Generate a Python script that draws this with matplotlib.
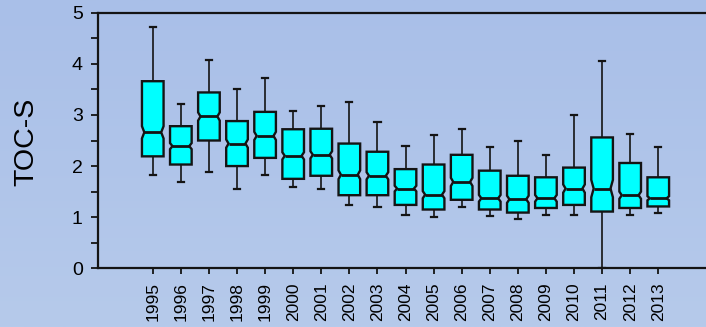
import numpy as np
import matplotlib
matplotlib.use("Agg")
import matplotlib.pyplot as plt
from matplotlib.patches import Polygon

plt.rcParams['font.family'] = ['Liberation Sans', 'DejaVu Sans']

# Datos
years = ["1995", "1996", "1997", "1998", "1999", "2000", "2001", "2002", "2003", "2004",
         "2005", "2006", "2007", "2008", "2009", "2010", "2011", "2012", "2013"]
whisk_hi = [4.73, 3.22, 4.07, 3.50, 3.72, 3.07, 3.17, 3.25, 2.86, 2.40,
            2.60, 2.73, 2.38, 2.50, 2.22, 3.00, 4.06, 2.63, 2.38]
q3 = [3.66, 2.78, 3.44, 2.88, 3.06, 2.72, 2.73, 2.44, 2.28, 1.94,
      2.03, 2.22, 1.91, 1.81, 1.78, 1.97, 2.56, 2.06, 1.78]
median = [2.66, 2.39, 2.97, 2.44, 2.59, 2.20, 2.22, 1.83, 1.81, 1.56,
          1.44, 1.69, 1.37, 1.35, 1.37, 1.56, 1.56, 1.43, 1.37]
q1 = [2.19, 2.03, 2.50, 2.00, 2.16, 1.75, 1.81, 1.43, 1.43, 1.24,
      1.15, 1.34, 1.15, 1.09, 1.18, 1.24, 1.11, 1.18, 1.21]
whisk_lo = [1.82, 1.69, 1.88, 1.56, 1.82, 1.59, 1.56, 1.24, 1.19, 1.05,
            1.00, 1.19, 1.02, 0.96, 1.05, 1.05, 0.01, 1.05, 1.09]
notch = [0.12, 0.06, 0.08, 0.08, 0.08, 0.07, 0.07, 0.085, 0.07, 0.055,
         0.07, 0.08, 0.065, 0.07, 0.065, 0.08, 0.17, 0.07, 0.04]

fig = plt.figure(figsize=(7.06, 3.27), dpi=100)

# fondo degradado
bg = fig.add_axes([0, 0, 1, 1], zorder=-10)
grad = np.linspace(0, 1, 256).reshape(-1, 1)
top_c = np.array([169, 191, 232]) / 255
bot_c = np.array([182, 202, 235]) / 255
img = top_c[None, None, :] * (1 - grad[:, :, None]) + bot_c[None, None, :] * grad[:, :, None]
bg.imshow(img, aspect='auto', extent=[0, 1, 0, 1])
bg.axis('off')

ax = fig.add_axes([98 / 706, 1 - 268.3 / 327, 1 - 98 / 706, (268.3 - 12.7) / 327])
ax.set_facecolor('none')

edge = '#141414'
box_w = 0.77
cap_w = 0.22
pos = np.arange(len(years)) + 1.95

for i in range(len(years)):
    x = pos[i]
    hw = box_w / 2
    nw = hw * 0.78
    lo = median[i] - notch[i]
    hi = median[i] + notch[i]
    verts = [(x - hw, q1[i]), (x + hw, q1[i]), (x + hw, lo), (x + nw, median[i]),
             (x + hw, hi), (x + hw, q3[i]), (x - hw, q3[i]), (x - hw, hi),
             (x - nw, median[i]), (x - hw, lo)]
    ax.add_patch(Polygon(verts, closed=True, fc='#00FFFF', ec=edge, lw=1.7, zorder=3, joinstyle='miter'))
    # bigotes
    ax.plot([x, x], [q3[i], whisk_hi[i]], color=edge, lw=1.2, zorder=2)
    ax.plot([x, x], [whisk_lo[i], q1[i]], color=edge, lw=1.2, zorder=2)
    ax.plot([x - cap_w / 2, x + cap_w / 2], [whisk_hi[i]] * 2, color=edge, lw=1.6, zorder=2)
    ax.plot([x - cap_w / 2, x + cap_w / 2], [whisk_lo[i]] * 2, color=edge, lw=1.6, zorder=2)
    # mediana
    ax.plot([x - nw, x + nw], [median[i]] * 2, color=edge, lw=2.0, zorder=4, solid_capstyle='butt')

ax.set_xlim(0, 21.65)
ax.set_ylim(0, 5)
ax.set_xticks(pos)
ax.set_xticklabels(years, rotation=90, fontsize=12.5)
ax.set_yticks([0, 1, 2, 3, 4, 5])
ax.set_yticks(np.arange(0.5, 5, 1), minor=True)
ax.tick_params(axis='y', which='major', labelsize=14, length=5, width=1.3, pad=6, color=edge)
ax.tick_params(axis='y', which='minor', length=5, width=1.3, color=edge)
ax.tick_params(axis='x', length=4, width=1.3, pad=6, color=edge)

for s in ['left', 'bottom', 'top']:
    ax.spines[s].set_linewidth(1.6)
    ax.spines[s].set_color(edge)
ax.spines['right'].set_visible(False)

fig.text(26 / 706, 1 - 142 / 327, "TOC-S", rotation=90, fontsize=20.5, ha='center', va='center')

fig.savefig("out.png", dpi=100)
